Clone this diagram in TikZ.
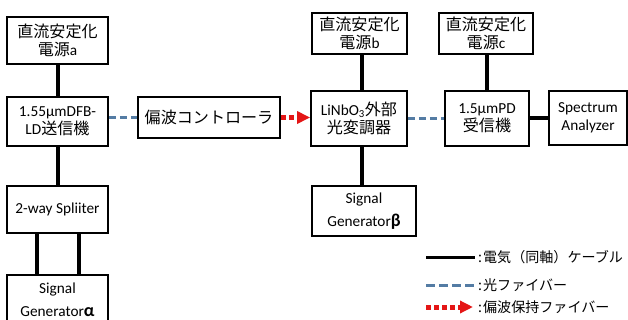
\documentclass[tikz,border=0pt]{standalone}
\usepackage{fontspec}
\setmainfont{Carlito}
\newfontfamily\jp[Scale=1.05]{Noto Sans CJK JP}
\usetikzlibrary{arrows.meta}
\definecolor{fiberblue}{RGB}{84,124,164}
\definecolor{pmred}{RGB}{228,22,22}
\begin{document}
\begin{tikzpicture}[x=1pt,y=-1pt,
 box/.style={draw=black,line width=1.8pt,fill=white,align=center,inner sep=0pt,font=\fontsize{15.3}{18}\selectfont},
 cable/.style={draw=black,line width=4pt},
 fiber/.style={draw=fiberblue,line width=3pt,dash pattern=on 7pt off 4pt},
 pmf/.style={draw=pmred,line width=5pt,dash pattern=on 5pt off 3pt,-{Triangle[length=13pt,width=12pt]}},
 legtext/.style={anchor=west,inner sep=0pt,font=\fontsize{13.4}{16}\selectfont\jp}]
\useasboundingbox (0,0) rectangle (628,320);
\fill[white] (0,0) rectangle (628,320);
% boxes
\node[box,minimum width=101pt,minimum height=47pt] (psa) at (57.5,40.5) {{\jp 直流安定化}\\{\jp 電源}a};
\node[box,minimum width=101pt,minimum height=49pt] (ld) at (57.5,121.5) {1.55μmDFB-\\LD{\jp 送信機}};
\node[box,minimum width=142pt,minimum height=41pt] (pc) at (209,117.5) {\jp 偏波コントローラ};
\node[box,minimum width=95pt,minimum height=41pt] (psb) at (359.5,33.5) {{\jp 直流安定化}\\{\jp 電源}b};
\node[box,minimum width=94pt,minimum height=41pt] (psc) at (486,33.5) {{\jp 直流安定化}\\{\jp 電源}c};
\node[box,minimum width=96pt,minimum height=55pt] (ln) at (359,118.5) {LiNbO\textsubscript{3}{\jp 外部}\\{\jp 光変調器}};
\node[box,minimum width=84pt,minimum height=55pt] (pd) at (487,118.5) {1.5μmPD\\{\jp 受信機}};
\node[box,minimum width=78pt,minimum height=54pt] (sa) at (588,118) {Spectrum\\Analyzer};
\node[box,minimum width=101pt,minimum height=47pt] (sp) at (57.5,209.5) {2-way Spliiter};
\node[box,minimum width=104pt,minimum height=50pt] (sgb) at (364,211) {Signal\\[5pt]Generator\textbf{\fontsize{18}{18}\selectfont β}};
\node[box,minimum width=101pt,minimum height=50pt] (sga) at (57.5,300) {Signal\\[5pt]Generator\textbf{\fontsize{18}{18}\selectfont α}};
% electrical cables
\draw[cable] (psa) -- (ld);
\draw[cable] (ld) -- (sp);
\draw[cable] ([xshift=-21pt]sp.south) -- ([xshift=-21pt]sga.north);
\draw[cable] ([xshift=21pt]sp.south) -- ([xshift=21pt]sga.north);
\draw[cable] ([xshift=2.5pt]psb.south) -- ([xshift=2.5pt]psb.south |- ln.north);
\draw[cable] ([xshift=1pt]psc.south) -- ([xshift=1pt]psc.south |- pd.north);
\draw[cable] ([xshift=3pt]ln.south) -- ([xshift=3pt]ln.south |- sgb.north);
\draw[cable] (pd) -- (pd -| sa.west);
% fibres
\draw[fiber] (pc.west -| ld.east) -- (pc.west);
\draw[fiber] (ln.east) -- (ln.east -| pd.west);
\draw[pmf] (pc.east) -- (pc.east -| ln.west);
% legend
\coordinate (la1) at (426,257);
\coordinate (lb1) at (475,257);
\coordinate (la2) at (426,285);
\coordinate (lb2) at (475,285);
\coordinate (la3) at (426,307);
\coordinate (lb3) at (473,307);
\draw[cable,line width=3pt] (la1) -- (lb1);
\draw[fiber,dash pattern=on 9pt off 4pt] (la2) -- (lb2);
\draw[pmf] (la3) -- (lb3);
\node[legtext] (lt1) at (478,257) {:\kern1pt 電気（同軸）ケーブル};
\node[legtext] (lt2) at (478,285) {:\kern1pt 光ファイバー};
\node[legtext] (lt3) at (478,307) {:\kern1pt 偏波保持ファイバー};
\end{tikzpicture}
\end{document}
